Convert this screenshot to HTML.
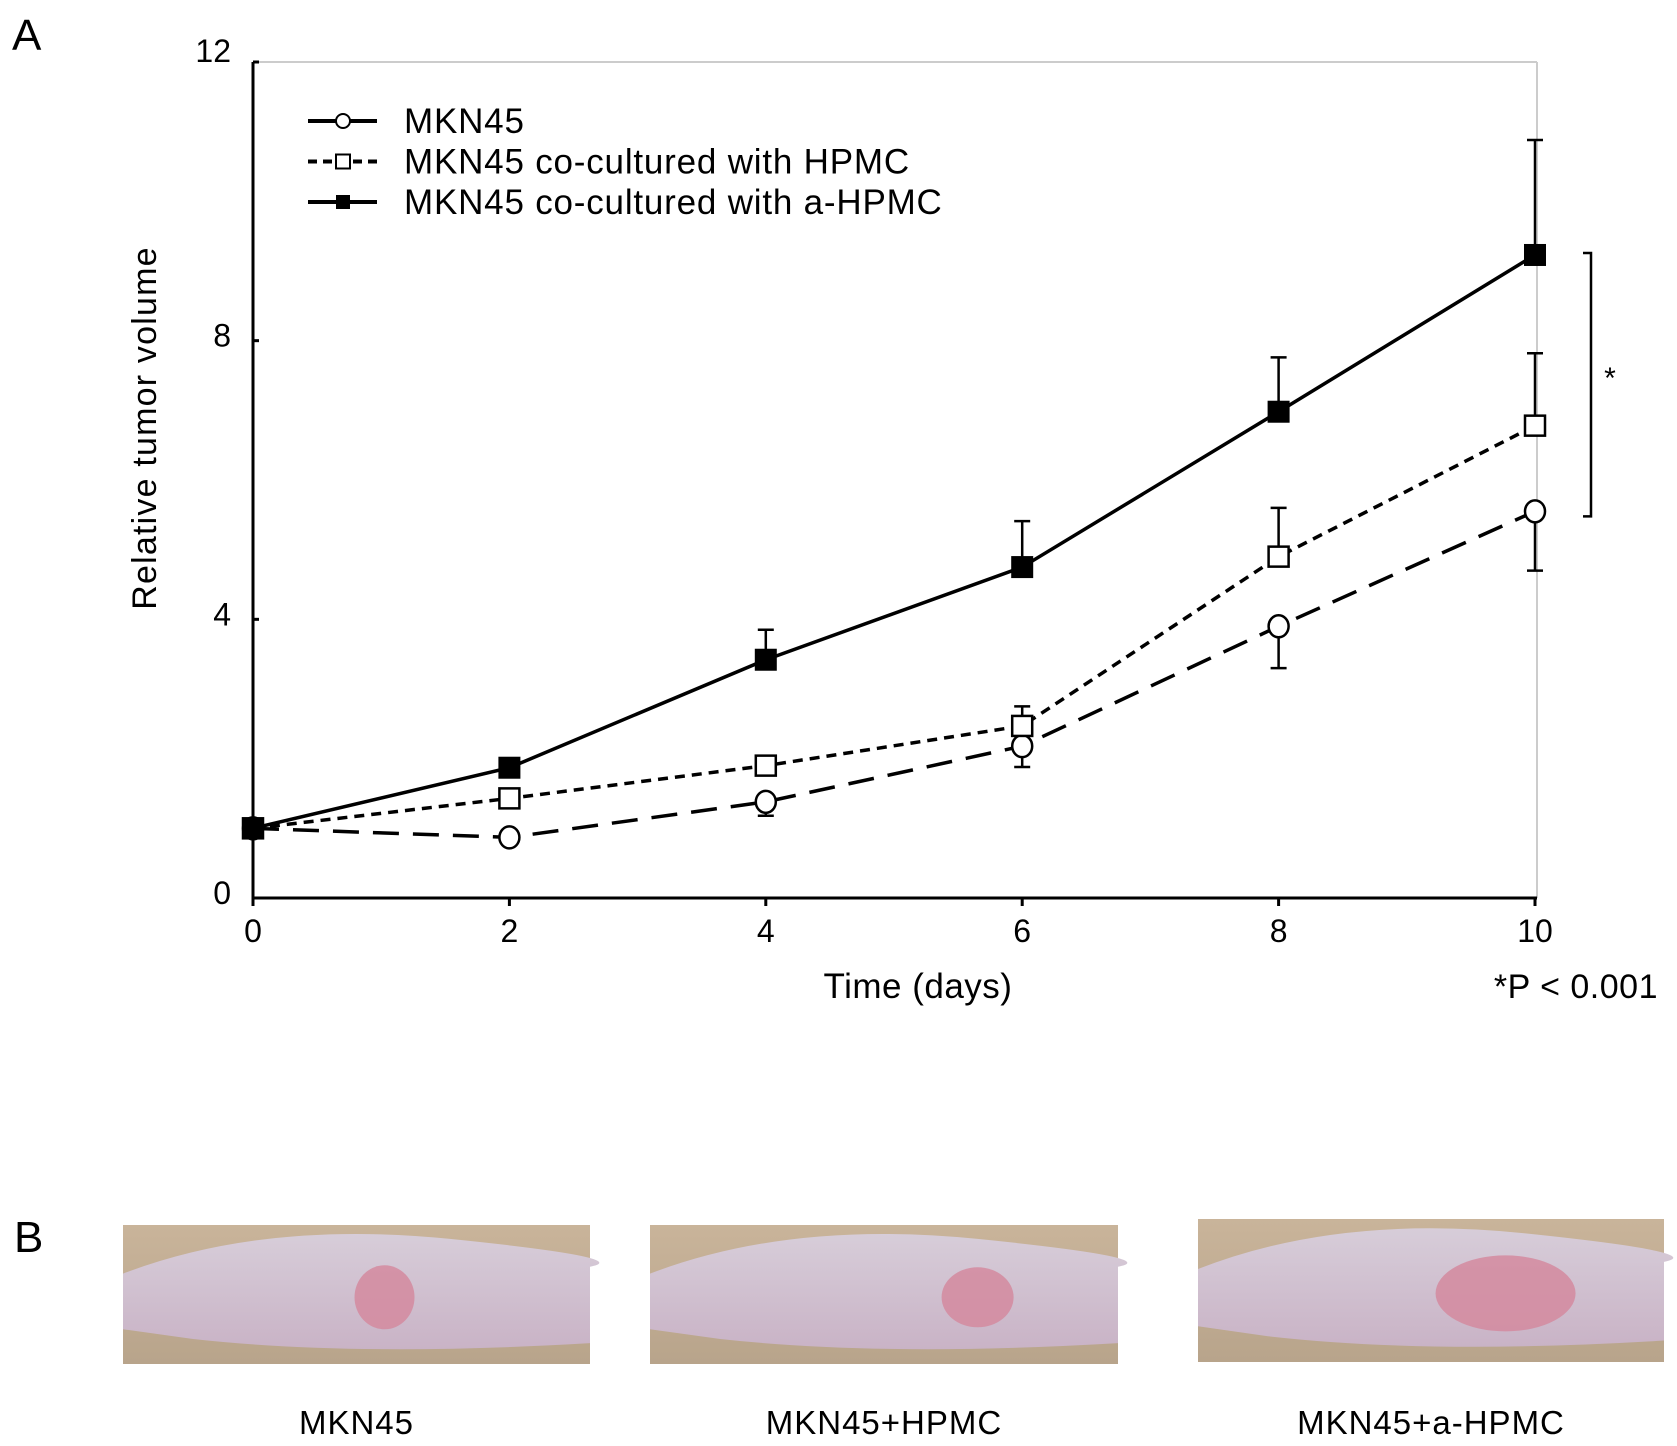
<!DOCTYPE html>
<html><head><meta charset="utf-8"><style>
html,body{margin:0;padding:0;background:#fff;}
svg{display:block;font-family:"Liberation Sans",sans-serif;}
</style></head><body>
<svg id="fig" width="1677" height="1446" viewBox="0 0 1677 1446" xmlns="http://www.w3.org/2000/svg">
<text x="12" y="50" font-size="44">A</text>
<text x="14" y="1252" font-size="44">B</text>
<g id="chart"></g>
<g id="photos"></g>
</svg>
<script>
const days = [0, 2, 4, 6, 8, 10];
const yTicks = [0, 4, 8, 12];
const mkn45 = [1.0, 0.87, 1.38, 2.18, 3.9, 5.55];
const mkn45Err = [0, 0, -0.2, -0.3, -0.6, -0.85];
const hpmc = [1.0, 1.43, 1.9, 2.47, 4.9, 6.78];
const hpmcErr = [0, 0, 0.05, 0.28, 0.7, 1.04];
const ahpmc = [1.0, 1.87, 3.42, 4.75, 6.98, 9.23];
const ahpmcErr = [0, 0.05, 0.43, 0.66, 0.78, 1.65];
const captions = ["MKN45", "MKN45+HPMC", "MKN45+a-HPMC"];

const NS = "http://www.w3.org/2000/svg";
const X0 = 253, X1 = 1535, Y0 = 898, Y1 = 62;
const sx = d => X0 + (d - 0) / 10 * (X1 - X0);
const sy = v => Y0 - v / 12 * (Y0 - Y1);
function mk(tag, attrs, parent, text) {
  const e = document.createElementNS(NS, tag);
  for (const k in attrs) e.setAttribute(k, attrs[k]);
  if (text !== undefined) e.textContent = text;
  parent.appendChild(e);
  return e;
}
const g = document.getElementById('chart');

let e = mk('line', {x1: X0, y1: Y1, x2: X1 + 2, y2: Y1, stroke: '#ccc', 'stroke-width': 2}, g);


e = mk('line', {x1: X1 + 2, y1: Y1, x2: X1 + 2, y2: Y0, stroke: '#ccc', 'stroke-width': 2}, g);


e = mk('line', {x1: X0, y1: Y1, x2: X0, y2: Y0 + 1, stroke: '#000', 'stroke-width': 3}, g);


e = mk('line', {x1: X0, y1: Y0, x2: X1 + 2, y2: Y0, stroke: '#000', 'stroke-width': 3}, g);



yTicks.forEach(t => {
  const el = mk('text', {x: X0 - 22, y: sy(t) + (t === 12 ? 0 : 6), 'font-size': 32, 'text-anchor': 'end'}, g, String(t));
  
  
  const tk = mk('line', {x1: X0, y1: sy(t), x2: X0 + 6, y2: sy(t), stroke: '#000', 'stroke-width': 3}, g);
  
  
});
days.forEach(d => {
  const el = mk('text', {x: sx(d), y: Y0 + 44, 'font-size': 32, 'text-anchor': 'middle'}, g, String(d));
  
  
  const tk = mk('line', {x1: sx(d), y1: Y0, x2: sx(d), y2: Y0 + 8, stroke: '#000', 'stroke-width': 3}, g);
  
  
});
e = mk('text', {x: 918, y: 998, 'font-size': 35, 'text-anchor': 'middle', 'letter-spacing': 0.5}, g, 'Time (days)');


e = mk('text', {x: 0, y: 0, 'font-size': 34, 'text-anchor': 'middle', 'letter-spacing': 1.2, transform: 'translate(156,428) rotate(-90)'}, g, 'Relative tumor volume');


e = mk('text', {x: 1658, y: 998, 'font-size': 34, 'text-anchor': 'end', 'letter-spacing': 0.5}, g, '*P < 0.001');



e = mk('polyline', {points: `1583,${sy(9.23)-2} 1591,${sy(9.23)-2} 1591,${sy(5.55)+5} 1583,${sy(5.55)+5}`, fill: 'none', stroke: '#000', 'stroke-width': 2.5}, g);


e = mk('text', {x: 1610, y: 388, 'font-size': 30, 'text-anchor': 'middle'}, g, '*');



function marker(type, x, y, parent) {
  let m;
  if (type === 'circle') m = mk('ellipse', {cx: x, cy: y, rx: 10, ry: 11, fill: '#fff', stroke: '#000', 'stroke-width': 2.5}, parent);
  else if (type === 'open') m = mk('rect', {x: x - 10, y: y - 10, width: 20, height: 20, fill: '#fff', stroke: '#000', 'stroke-width': 2.5}, parent);
  else m = mk('rect', {x: x - 10, y: y - 10, width: 20, height: 20, fill: '#000', stroke: '#000', 'stroke-width': 2}, parent);
  return m;
}
const series = [
  {name: 'mkn45', vals: mkn45, err: mkn45Err, dash: '26,14', m: 'circle'},
  {name: 'hpmc', vals: hpmc, err: hpmcErr, dash: '10,7', m: 'open'},
  {name: 'a-hpmc', vals: ahpmc, err: ahpmcErr, dash: 'none', m: 'filled'}
];
series.forEach(s => {
  const sg = mk('g', {}, g);
  
  
  s.vals.forEach((v, i) => {
    if (!s.err[i]) return;
    const x = sx(days[i]), ya = sy(v), yb = sy(v + s.err[i]);
    const eb = mk('path', {d: `M${x},${ya} L${x},${yb} M${x-8},${yb} L${x+8},${yb}`, stroke: '#000', 'stroke-width': 2.5, fill: 'none'}, sg);
    
    
  });
  const pts = s.vals.map((v, i) => sx(days[i]) + ',' + sy(v)).join(' ');
  const ln = mk('polyline', {points: pts, fill: 'none', stroke: '#000', 'stroke-width': 3.5, 'stroke-dasharray': s.dash}, sg);
  
  
  s.vals.forEach((v, i) => {
    const m = marker(s.m, sx(days[i]), sy(v), sg);
    
    
  });
});

const legLabels = ['MKN45', 'MKN45 co-cultured with HPMC', 'MKN45 co-cultured with a-HPMC'];
const legDash = ['none', '9,6', 'none'];
const legM = ['circle', 'open', 'filled'];
legLabels.forEach((t, i) => {
  const y = 121 + i * 40.5;
  const lg = mk('g', {}, g);
  
  
  mk('line', {x1: 308, y1: y, x2: 377, y2: y, stroke: '#000', 'stroke-width': 4, 'stroke-dasharray': legDash[i]}, lg);
  if (legM[i] === 'circle') mk('circle', {cx: 343, cy: y, r: 7, fill: '#fff', stroke: '#000', 'stroke-width': 2}, lg);
  else if (legM[i] === 'open') mk('rect', {x: 336, y: y - 7, width: 14, height: 14, fill: '#fff', stroke: '#000', 'stroke-width': 2}, lg);
  else mk('rect', {x: 336, y: y - 7, width: 14, height: 14, fill: '#000'}, lg);
  mk('text', {x: 404, y: y + 12, 'font-size': 35, 'letter-spacing': 0.8}, lg, t);
});

const pg = document.getElementById('photos');
const defs = mk('defs', {}, pg);
const bg = mk('linearGradient', {id: 'bg', x1: 0, y1: 0, x2: 0, y2: 1}, defs);
mk('stop', {offset: '0', 'stop-color': '#c9b49a'}, bg);
mk('stop', {offset: '1', 'stop-color': '#b8a48b'}, bg);
const body = mk('linearGradient', {id: 'body', x1: 0, y1: 0, x2: 0, y2: 1}, defs);
mk('stop', {offset: '0', 'stop-color': '#d7cdd9'}, body);
mk('stop', {offset: '1', 'stop-color': '#c9b3c6'}, body);
const boxes = [[123, 1225, 467, 139], [650, 1225, 468, 139], [1198, 1219, 466, 143]];
boxes.forEach((b, i) => {
  const [x, y, w, h] = b;
  const ph = mk('g', {}, pg);
  
  
  mk('rect', {x, y, width: w, height: h, fill: 'url(#bg)'}, ph);
  mk('path', {d: `M${x},${y+h*0.35} Q${x+w*0.3},${y-5} ${x+w*0.7},${y+h*0.1} T${x+w},${y+h*0.3} L${x+w},${y+h*0.85} Q${x+w*0.5},${y+h*0.95} ${x+w*0.15},${y+h*0.82} L${x},${y+h*0.75} Z`, fill: 'url(#body)'}, ph);
  const tx = [x + w * 0.56, x + w * 0.7, x + w * 0.66][i];
  mk('ellipse', {cx: tx, cy: y + h * 0.52, rx: [30, 36, 70][i], ry: [32, 30, 38][i], fill: '#d48a9f', opacity: 0.85}, ph);
  const c = mk('text', {x: x + w / 2, y: 1434, 'font-size': 33, 'text-anchor': 'middle', 'letter-spacing': 1}, pg, captions[i]);
  
  
});
</script>
</body></html>
